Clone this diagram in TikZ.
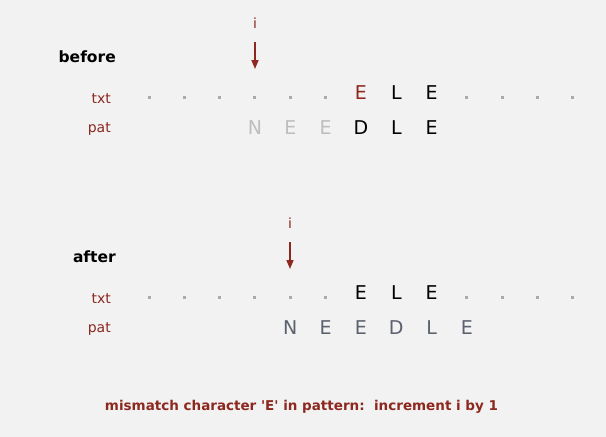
\documentclass[tikz,border=0pt]{standalone}
\usepackage{fontspec}
\setmainfont{DejaVu Sans}
\usetikzlibrary{positioning, arrows.meta}

\definecolor{bg}{RGB}{242,242,242}
\definecolor{darkred}{RGB}{140,40,30}
\definecolor{dotgray}{RGB}{170,170,170}
\definecolor{lightgray}{RGB}{190,190,190}
\definecolor{slate}{RGB}{92,97,110}

\begin{document}
\begin{tikzpicture}[
		x=1pt, y=-1pt,
		every node/.style={inner sep=0pt},
		Char/.style={anchor=base, font=\fontsize{19}{19}\selectfont},
		Dot/.style={fill=dotgray, minimum size=3pt},
		Label/.style={anchor=base east, text=darkred, font=\fontsize{14}{14}\selectfont},
		Title/.style={anchor=base east, font=\fontsize{15.5}{15.5}\selectfont\bfseries},
		Ptr/.style={anchor=base, text=darkred, font=\fontsize{14}{14}\selectfont},
		PtrArrow/.style={draw=darkred, line width=1.5pt, -{Triangle[width=7pt,length=9pt]}, shorten <=14pt}
	]
	\useasboundingbox[fill=bg] (0,0) rectangle (606,437);

	% before
	\node[Title] (before) at (116,62) {before};
	\node[Label] (txt1) at (111,103) {txt};
	\node[Label] (pat1) at (111,132) {pat};
	\node[Ptr] (i1) at (255,28) {i};
	\coordinate (i1tip) at (255,69);
	\draw[PtrArrow] (i1) -- (i1tip);
	\foreach \k in {0,...,5,9,10,11,12}
		\node[Dot] (t1-\k) at ({149+35.33*\k},97) {};
	\node[Char, text=darkred] (t1-6) at ({149+35.33*6},99) {E};
	\foreach \k/\c in {7/L,8/E}
		\node[Char] (t1-\k) at ({149+35.33*\k},99) {\c};
	\foreach \k/\c in {3/N,4/E,5/E}
		\node[Char, text=lightgray] (p1-\k) at ({149+35.33*\k},134) {\c};
	\foreach \k/\c in {6/D,7/L,8/E}
		\node[Char] (p1-\k) at ({149+35.33*\k},134) {\c};

	% after
	\node[Title] (after) at (116,262) {after};
	\node[Label] (txt2) at (111,303) {txt};
	\node[Label] (pat2) at (111,332) {pat};
	\node[Ptr] (i2) at (290,228) {i};
	\coordinate (i2tip) at (290,269);
	\draw[PtrArrow] (i2) -- (i2tip);
	\foreach \k in {0,...,5,9,10,11,12}
		\node[Dot] (t2-\k) at ({149+35.33*\k},297) {};
	\foreach \k/\c in {6/E,7/L,8/E}
		\node[Char] (t2-\k) at ({149+35.33*\k},299) {\c};
	\foreach \k/\c in {4/N,5/E,6/E,7/D,8/L,9/E}
		\node[Char, text=slate] (p2-\k) at ({149+35.33*\k},334) {\c};

	\node[anchor=base, text=darkred, font=\fontsize{13.5}{13.5}\selectfont\bfseries] (note) at (301.5,410)
		{mismatch character \textquotesingle E\textquotesingle\ in pattern:\ \ increment i by 1};
\end{tikzpicture}
\end{document}
